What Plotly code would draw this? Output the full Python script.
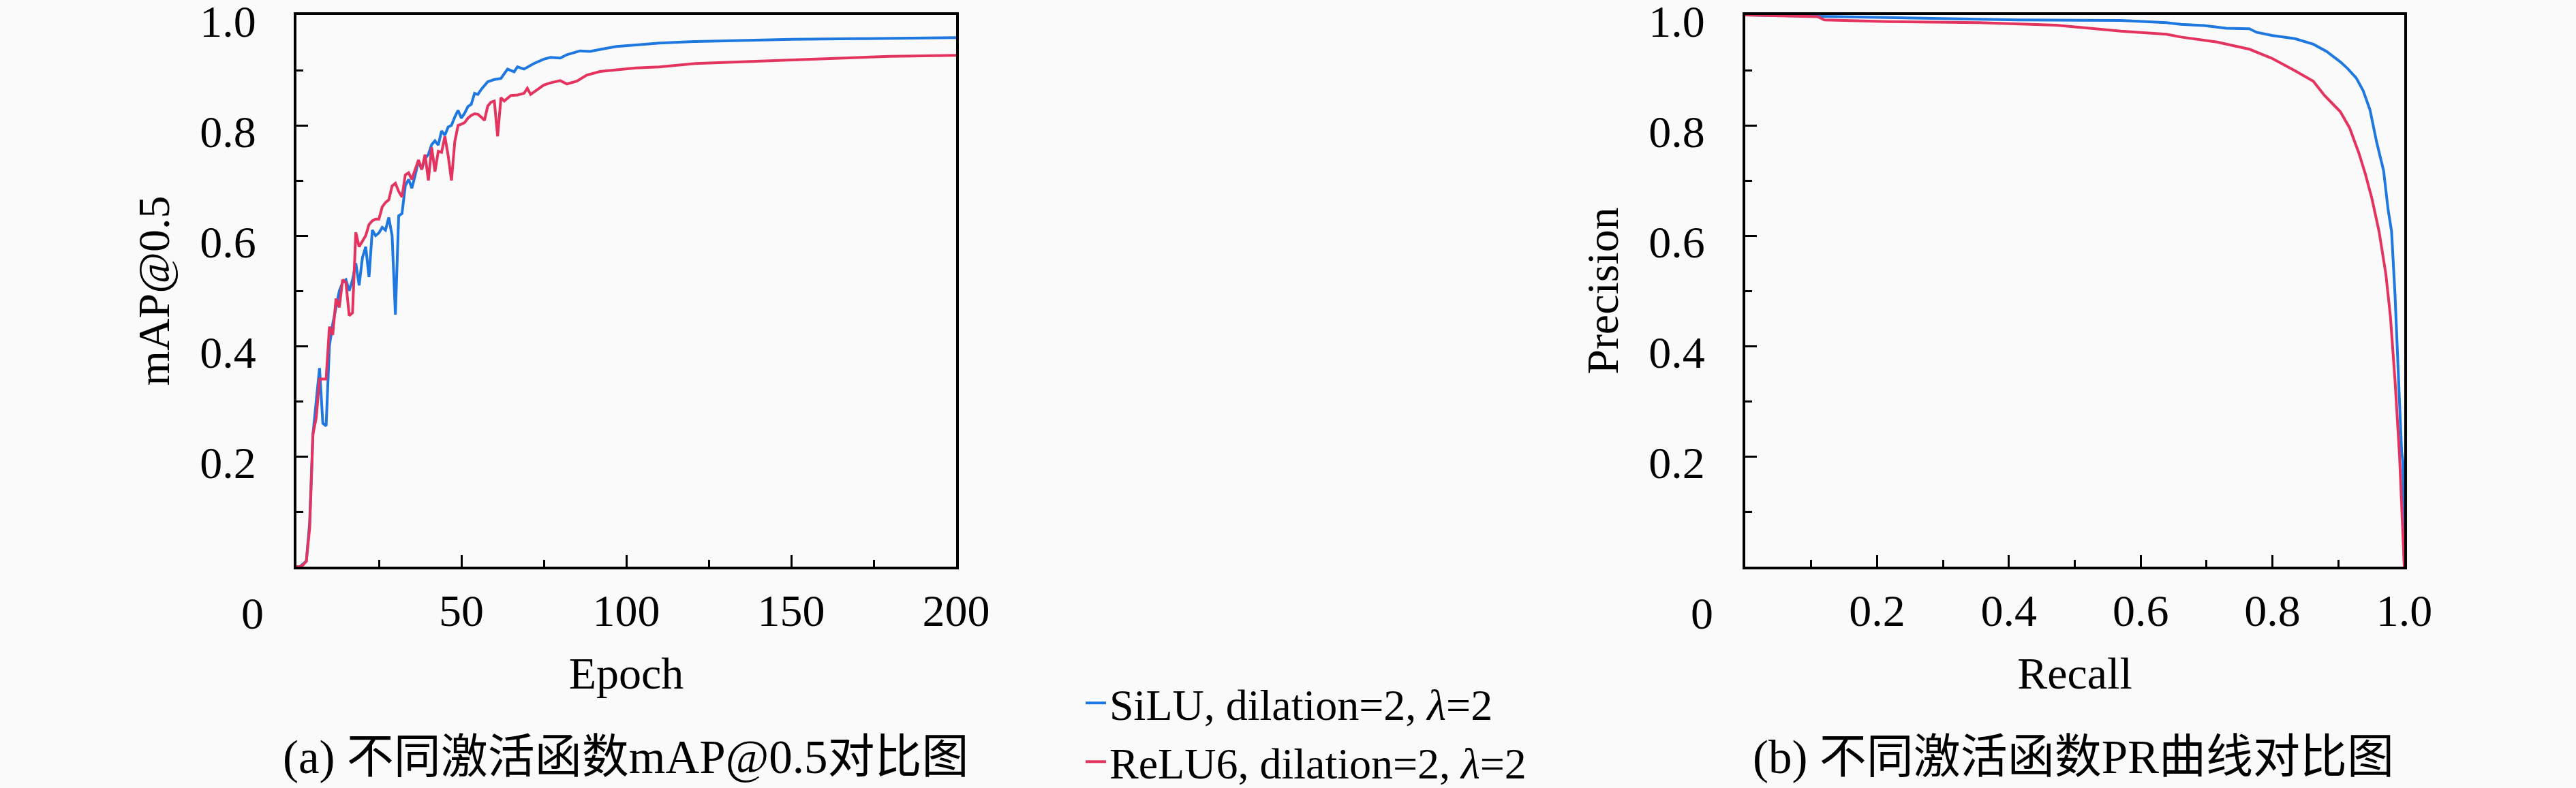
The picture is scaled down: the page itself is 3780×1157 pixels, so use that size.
import plotly.graph_objects as go

# ---------------- data ----------------
series_names = ["SiLU, dilation=2, <i>λ</i>=2", "ReLU6, dilation=2, <i>λ</i>=2"]

epoch_silu = list(range(0, 61)) + [62, 64, 66, 67, 69, 72, 75, 77, 80, 82, 86, 89, 93, 97,
                                   103, 110, 121, 135, 150, 170, 185, 200]
map_silu = [0.0, 0.0, 0.005, 0.01, 0.08, 0.24, 0.30, 0.36, 0.26, 0.255,
            0.40, 0.44, 0.47, 0.50, 0.515, 0.52, 0.50, 0.52, 0.55, 0.51,
            0.56, 0.58, 0.525, 0.61, 0.60, 0.605, 0.615, 0.61, 0.633, 0.60,
            0.457, 0.636, 0.64, 0.69, 0.702, 0.686, 0.71, 0.735, 0.72, 0.74,
            0.747, 0.765, 0.772, 0.764, 0.79, 0.782, 0.797, 0.80, 0.815, 0.827,
            0.813, 0.822, 0.834, 0.838, 0.858, 0.856, 0.865, 0.872, 0.879, 0.881,
            0.883,
            0.885, 0.902, 0.897, 0.906, 0.902, 0.912, 0.92, 0.923, 0.922, 0.928, 0.935,
            0.934, 0.9386, 0.9428, 0.9457, 0.949, 0.952, 0.954, 0.956, 0.957, 0.958, 0.959]

epoch_relu = list(range(0, 61)) + [61, 62, 63, 65, 67, 69, 70, 71, 73, 75, 77, 80, 82, 85,
                                   88, 92, 96, 103, 110, 121, 135, 150, 165, 180, 200]
map_relu = [0.0, 0.0, 0.003, 0.01, 0.07, 0.24, 0.27, 0.34, 0.34, 0.34,
            0.435, 0.42, 0.486, 0.47, 0.52, 0.515, 0.455, 0.46, 0.606, 0.58,
            0.59, 0.60, 0.62, 0.627, 0.63, 0.63, 0.652, 0.66, 0.665, 0.69,
            0.695, 0.68, 0.67, 0.71, 0.714, 0.702, 0.72, 0.737, 0.72, 0.747,
            0.70, 0.76, 0.716, 0.753, 0.751, 0.78, 0.745, 0.70, 0.77, 0.80,
            0.802, 0.805, 0.813, 0.818, 0.821, 0.82, 0.815, 0.809, 0.835, 0.842,
            0.844,
            0.78, 0.85, 0.844, 0.854, 0.855, 0.858, 0.867, 0.856, 0.865, 0.873, 0.877,
            0.881, 0.875, 0.880, 0.891, 0.8975, 0.90, 0.904, 0.906, 0.912, 0.915, 0.918,
            0.922, 0.925, 0.927]

recall_silu = [0.0, 0.1, 0.218, 0.414, 0.57, 0.639, 0.661, 0.696, 0.730, 0.765, 0.776, 0.799,
               0.834, 0.862, 0.882, 0.903, 0.914, 0.927, 0.9376, 0.948, 0.958, 0.9686, 0.9755,
               0.9807, 0.986, 0.991, 0.996, 0.998, 1.0]
precision_silu = [1.0, 0.998, 0.995, 0.991, 0.99, 0.986, 0.983, 0.981, 0.976, 0.975, 0.9686,
                  0.963, 0.957, 0.947, 0.934, 0.915, 0.903, 0.886, 0.863, 0.828, 0.770, 0.718,
                  0.647, 0.608, 0.492, 0.363, 0.208, 0.19, 0.0]

recall_relu = [0.0, 0.11, 0.12, 0.218, 0.355, 0.472, 0.570, 0.639, 0.661, 0.716, 0.765, 0.799,
               0.834, 0.862, 0.879, 0.903, 0.917, 0.931, 0.941, 0.951, 0.9617, 0.972, 0.979,
               0.986, 0.9928, 1.0]
precision_relu = [1.0, 0.997, 0.991, 0.988, 0.986, 0.9816, 0.9707, 0.965, 0.960, 0.951, 0.938,
                  0.9215, 0.899, 0.880, 0.854, 0.8247, 0.7955, 0.750, 0.7116, 0.6667, 0.608,
                  0.531, 0.453, 0.337, 0.2015, 0.0]

epoch_ticks = [50, 100, 150, 200]
epoch_minor = [25, 75, 125, 175]
unit_ticks = [0.2, 0.4, 0.6, 0.8, 1.0]
unit_tick_text = ["0.2", "0.4", "0.6", "0.8", "1.0"]
unit_minor = [0.1, 0.3, 0.5, 0.7, 0.9]

captions = ["(a) 不同激活函数mAP@0.5对比图", "(b) 不同激活函数PR曲线对比图"]

# ---------------- style ----------------
W, H = 3780, 1157
BLUE = "#1f78e0"
RED = "#e5335f"
BG = "#fafafa"
FONT = "Liberation Serif, Noto Sans CJK SC, serif"
FS = 66
LW = 4

fig = go.Figure()
fig.add_trace(go.Scatter(x=epoch_silu, y=map_silu, mode="lines", name=series_names[0],
                         line=dict(color=BLUE, width=LW), legendgroup="a",
                         xaxis="x", yaxis="y"))
fig.add_trace(go.Scatter(x=epoch_relu, y=map_relu, mode="lines", name=series_names[1],
                         line=dict(color=RED, width=LW), legendgroup="b",
                         xaxis="x", yaxis="y"))
fig.add_trace(go.Scatter(x=recall_silu, y=precision_silu, mode="lines", name=series_names[0],
                         line=dict(color=BLUE, width=LW), legendgroup="a", showlegend=False,
                         xaxis="x2", yaxis="y2"))
fig.add_trace(go.Scatter(x=recall_relu, y=precision_relu, mode="lines", name=series_names[1],
                         line=dict(color=RED, width=LW), legendgroup="b", showlegend=False,
                         xaxis="x2", yaxis="y2"))

yb, yt = 1 - 832 / H, 1 - 22 / H


def axis_common():
    return dict(showline=True, mirror=True, linecolor="black", linewidth=4,
                ticks="inside", ticklen=17, tickwidth=3, tickcolor="black",
                showgrid=False, zeroline=False, ticklabeloverflow="allow",
                automargin=False,
                tickfont=dict(family=FONT, size=FS, color="black"),
                title_font=dict(family=FONT, size=FS, color="black"))


def minor_ticks(vals):
    return dict(tickvals=vals, ticks="inside", ticklen=10, tickwidth=3, tickcolor="black")


fig.update_layout(
    width=W, height=H, margin=dict(l=0, r=0, t=0, b=0, autoexpand=False),
    paper_bgcolor=BG, plot_bgcolor=BG,
    font=dict(family=FONT, size=FS, color="black"),
    xaxis=dict(**axis_common(), domain=[435 / W, 1403 / W], range=[0, 200],
               tickvals=epoch_ticks, ticktext=[str(v) for v in epoch_ticks],
               minor=minor_ticks(epoch_minor), ticklabelstandoff=4,
               title=dict(text="Epoch", standoff=34), anchor="y"),
    yaxis=dict(**axis_common(), domain=[yb, yt], range=[0, 1],
               tickvals=unit_ticks, ticktext=unit_tick_text,
               minor=minor_ticks(unit_minor), ticklabelstandoff=42, ticklabelshift=9,
               title=dict(text="mAP@0.5", standoff=24), anchor="x"),
    xaxis2=dict(**axis_common(), domain=[2561 / W, 3528 / W], range=[0, 1],
                tickvals=unit_ticks, ticktext=unit_tick_text,
                minor=minor_ticks(unit_minor), ticklabelstandoff=4,
                title=dict(text="Recall", standoff=34), anchor="y2"),
    yaxis2=dict(**axis_common(), domain=[yb, yt], range=[0, 1],
                tickvals=unit_ticks, ticktext=unit_tick_text,
                minor=minor_ticks(unit_minor), ticklabelstandoff=42, ticklabelshift=9,
                title=dict(text="Precision", standoff=24), anchor="x2"),
    legend=dict(x=1588 / W, y=1 - 984 / H, xanchor="left", yanchor="top",
                bgcolor="rgba(0,0,0,0)", borderwidth=0,
                font=dict(family=FONT, size=64, color="black"),
                tracegroupgap=0, itemwidth=30),
    showlegend=True,
)

# corner "0" labels and captions
for xc, txt in [(370, "0"), (2497, "0")]:
    fig.add_annotation(x=xc / W, y=1 - 900 / H, xref="paper", yref="paper", text=txt,
                       xanchor="center", yanchor="middle", showarrow=False,
                       font=dict(family=FONT, size=FS, color="black"))
for xc, txt in [(918, captions[0]), (3042, captions[1])]:
    fig.add_annotation(x=xc / W, y=1 - 1112 / H, xref="paper", yref="paper", text=txt,
                       xanchor="center", yanchor="middle", showarrow=False,
                       font=dict(family=FONT, size=69, color="black"))

fig.write_html("out.html",
               config={"displayModeBar": False},
               post_script="document.body.style.margin='0';"
                           "document.body.style.background='#fafafa';")
